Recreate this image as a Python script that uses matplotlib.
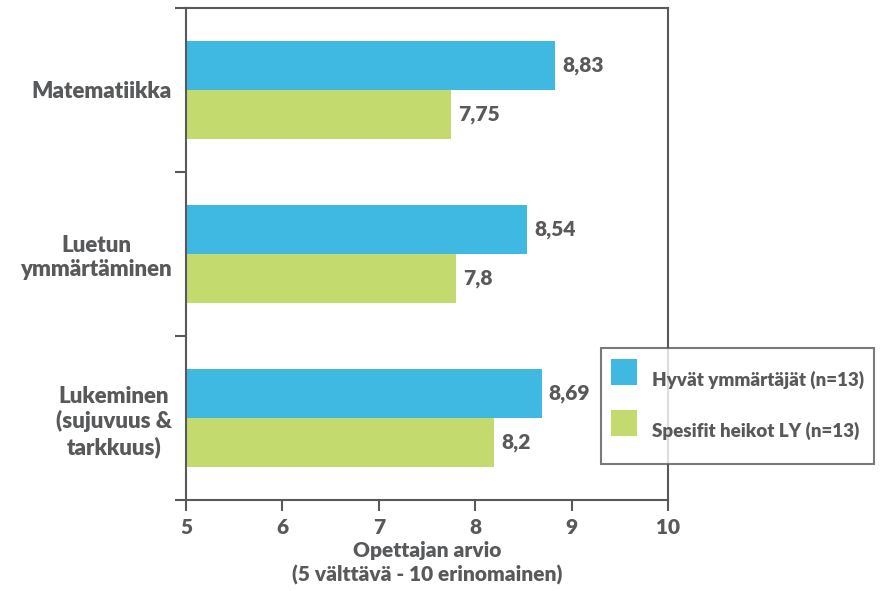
import matplotlib
matplotlib.use("Agg")
import matplotlib.pyplot as plt
from matplotlib.lines import Line2D

categories = ["Lukeminen\n(sujuvuus &\ntarkkuus)", "Luetun\nymmärtäminen", "Matematiikka"]
good = [8.69, 8.54, 8.83]
weak = [8.2, 7.8, 7.75]
good_labels = ["8,69", "8,54", "8,83"]
weak_labels = ["8,2", "7,8", "7,75"]
series_names = ["Hyvät ymmärtäjät (n=13)", "Spesifit heikot LY (n=13)"]
xticks = [5, 6, 7, 8, 9, 10]
xlabel = "Opettajan arvio\n(5 välttävä - 10 erinomainen)"

BLUE = "#3FB8E2"
GREEN = "#C2DA6E"
TEXT = "#58595B"
SPINE = "#58595B"
W = "heavy"

plt.rcParams["font.family"] = ["Lato", "DejaVu Sans"]
plt.rcParams["font.weight"] = "bold"

fig = plt.figure(figsize=(8.8, 5.91), dpi=100)
ax = fig.add_axes([186 / 880, 1 - 500 / 591, (668 - 186) / 880, (500 - 8) / 591])

h = 0.3
y = list(range(len(categories)))
yg = [v + h / 2 for v in y]
yw = [v - h / 2 for v in y]
ax.barh(yg, [g - 5 for g in good], left=5, height=h, color=BLUE, edgecolor="none")
ax.barh(yw, [w - 5 for w in weak], left=5, height=h, color=GREEN, edgecolor="none")

for yy, v, s in zip(yg, good, good_labels):
    ax.text(v + 0.07, yy, s, va="center", ha="left", fontsize=15,
            color=TEXT, fontweight=W)
for yy, v, s in zip(yw, weak, weak_labels):
    ax.text(v + 0.07, yy, s, va="center", ha="left", fontsize=15,
            color=TEXT, fontweight=W)

ax.set_xlim(5, 10)
ax.set_ylim(-0.5, 2.5)
ax.set_xticks(xticks)
ax.set_xticklabels([str(t) for t in xticks], fontsize=15, color=TEXT, fontweight=W)
ax.tick_params(axis="x", direction="out", length=8, width=1.5, color=SPINE, pad=5)

ax.set_yticks(y)
ax.set_yticklabels(categories, fontsize=16, color=TEXT, fontweight=W)
for t in ax.get_yticklabels():
    t.set_multialignment("center")
    t.set_linespacing(1.2)
ax.tick_params(axis="y", which="major", length=0, pad=10)
ax.set_yticks([-0.5, 0.5, 1.5, 2.5], minor=True)
ax.tick_params(axis="y", which="minor", direction="out", length=8, width=1.5, color=SPINE)

for sp in ax.spines.values():
    sp.set_color(SPINE)
    sp.set_linewidth(1.5)

ax.set_xlabel(xlabel, fontsize=15, color=TEXT, fontweight=W, labelpad=3,
              linespacing=1.3)

# square swatches as legend handles
handles = [Line2D([], [], linestyle="none", marker="s", markersize=18.7,
                  markerfacecolor=c, markeredgewidth=0) for c in (BLUE, GREEN)]
leg = fig.legend(handles, series_names, loc="upper left",
                 bbox_to_anchor=(601 / 880, 1 - 348 / 591),
                 fontsize=13.5, frameon=True, fancybox=False,
                 handlelength=1.4, handleheight=3.3, handletextpad=0.75,
                 labelspacing=0.3, borderpad=0.55, borderaxespad=0)
leg.get_frame().set_edgecolor(SPINE)
leg.get_frame().set_linewidth(1.5)
for t in leg.get_texts():
    t.set_color(TEXT)
    t.set_fontweight(W)

fig.savefig("out.png", dpi=100)
